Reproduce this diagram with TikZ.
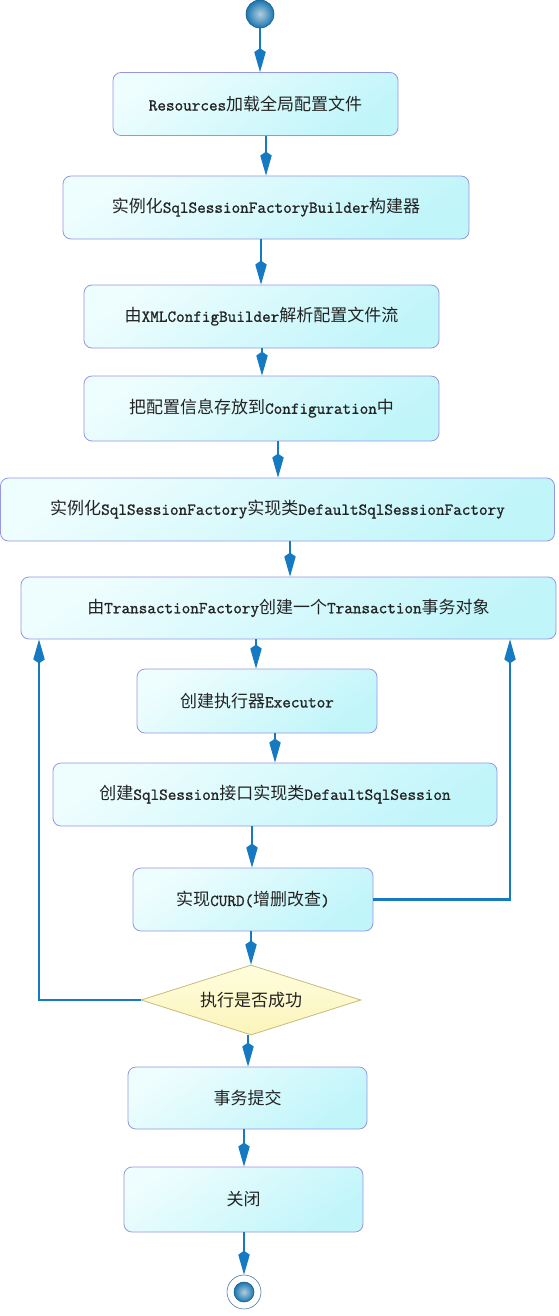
\documentclass[tikz,border=0pt]{standalone}
\usepackage{fontspec}
\setmainfont{Noto Sans CJK SC}
\setmonofont{Latin Modern Mono}[FakeBold=1.2]
\usetikzlibrary{arrows.meta,shapes.geometric}

\definecolor{flowblue}{RGB}{22,122,194}
\definecolor{boxedge}{RGB}{150,150,228}
\definecolor{boxtop}{RGB}{238,253,254}
\definecolor{boxbottom}{RGB}{192,245,250}
\definecolor{diaedge}{RGB}{200,186,122}
\definecolor{diatop}{RGB}{255,253,222}
\definecolor{diabottom}{RGB}{251,244,186}
\definecolor{textgray}{RGB}{35,35,35}
\definecolor{balllight}{RGB}{178,206,222}
\definecolor{balldark}{RGB}{24,118,176}
\definecolor{balledge}{RGB}{30,92,140}

\newcommand{\en}[1]{{\ttfamily\fontsize{16.7pt}{20pt}\selectfont #1}}

\begin{document}
\begin{tikzpicture}[x=1pt,y=-1pt,
  flow/.style={-{Kite[length=24pt,width=11.5pt,inset=4pt]},draw=flowblue,line width=2.2pt},
  main node/.style={rectangle,rounded corners=8pt,draw=boxedge,line width=0.8pt,
    top color=boxtop,bottom color=boxbottom,shading angle=35,
    minimum height=63pt,inner sep=0pt,text=textgray,
    font=\fontsize{17pt}{20pt}\selectfont},
  test node/.style={diamond,aspect=3.14,draw=diaedge,line width=0.8pt,
    top color=diatop,bottom color=diabottom,inner sep=0pt,
    minimum width=220pt,minimum height=70pt,text=textgray,
    font=\fontsize{17pt}{20pt}\selectfont},
  ball node/.style={circle,draw=balledge,line width=0.6pt,inner sep=0pt,
    inner color=balllight,outer color=balldark}]

  \useasboundingbox (0,0) rectangle (559,1316);

  \node[ball node,minimum size=28pt] (start) at (260,14) {};
  \node[main node,minimum width=285pt] (load) at (255.5,104) {\en{Resources}加载全局配置文件};
  \node[main node,minimum width=406pt] (builder) at (266,207.5) {实例化\en{SqlSessionFactoryBuilder}构建器};
  \node[main node,minimum width=355pt] (parse) at (261.5,316.5) {由\en{XMLConfigBuilder}解析配置文件流};
  \node[main node,minimum width=355pt,minimum height=65pt] (config) at (261.5,408.5) {把配置信息存放到\en{Configuration}中};
  \node[main node,minimum width=554pt] (factory) at (277.5,509.5) {实例化\en{SqlSessionFactory}实现类\en{DefaultSqlSessionFactory}};
  \node[main node,minimum width=535pt,minimum height=62pt] (trans) at (288.5,608) {由\en{TransactionFactory}创建一个\en{Transaction}事务对象};
  \node[main node,minimum width=240pt,minimum height=64pt] (executor) at (257,701) {创建执行器\en{Executor}};
  \node[main node,minimum width=444pt] (session) at (275,794.5) {创建\en{SqlSession}接口实现类\en{DefaultSqlSession}};
  \node[main node,minimum width=240pt] (curd) at (253,899.5) {实现\en{CURD(}增删改查\en{)}};
  \node[test node] (success) at (251,1000) {执行是否成功};
  \node[main node,minimum width=239pt,minimum height=62pt] (commit) at (247.5,1098) {事务提交};
  \node[main node,minimum width=239pt,minimum height=65pt] (close) at (243.5,1199.5) {关闭};
  \node[circle,draw=balledge!80,line width=0.6pt,fill=white,minimum size=34pt] (stop) at (244,1292) {};
  \node[ball node,minimum size=20pt] (stopdot) at (stop) {};

  \path[every edge/.append style={flow}]
    (start.south) edge (load.north -| start.south)
    (load.south -| 266,0) edge (builder.north -| 266,0)
    (builder.south -| 261,0) edge (parse.north -| 261,0)
    (parse.south -| 262,0) edge (config.north -| 262,0)
    (config.south -| 278,0) edge (factory.north -| 278,0)
    (factory.south -| 290,0) edge (trans.north -| 290,0)
    (trans.south -| 256,0) edge (executor.north -| 256,0)
    (executor.south -| 275,0) edge (session.north -| 275,0)
    (session.south -| 252,0) edge (curd.north -| 252,0)
    (curd.south -| 251,0) edge (success.north)
    (success.south -| 248,0) edge (commit.north -| 248,0)
    (commit.south -| 244,0) edge (close.north -| 244,0)
    (close.south -| stop.north) edge (stop.north);

  \draw[flow] (curd.east) -| (trans.south -| 510,0);
  \draw[flow] (success.west) -| (trans.south -| 39,0);
\end{tikzpicture}
\end{document}
